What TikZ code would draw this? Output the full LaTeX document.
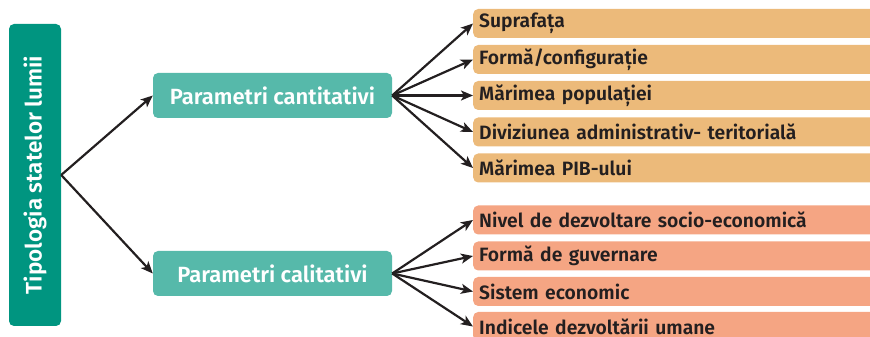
\documentclass[tikz,border=0pt]{standalone}
\usepackage{fontspec}
\setmainfont{Fira Sans SemiBold}
\usetikzlibrary{arrows.meta}
\definecolor{darkteal}{RGB}{0,149,128}
\definecolor{lightteal}{RGB}{86,185,170}
\definecolor{orangebox}{RGB}{236,186,122}
\definecolor{salmonbox}{RGB}{245,165,131}
\definecolor{ink}{RGB}{35,31,32}
\tikzset{
  x=1pt,y=1pt,
  rootbox/.style={fill=darkteal, rounded corners=5pt, minimum width=52pt, minimum height=302pt, inner sep=0pt, text=white, font=\fontsize{22.5}{22.5}\selectfont},
  midbox/.style={fill=lightteal, rounded corners=5pt, minimum width=239pt, minimum height=45pt, inner sep=0pt, text=white, font=\fontsize{22}{22}\selectfont},
  leafbox/.style={rounded corners=5pt, anchor=west, minimum height=29pt, text width=395pt, inner xsep=6pt, inner ysep=0pt, align=left, text=ink, font=\fontsize{19.3}{19.3}\selectfont},
  qbox/.style={leafbox, fill=orangebox},
  lbox/.style={leafbox, fill=salmonbox},
  arr/.style={draw=ink, line width=2.2pt, -{Stealth[length=12pt,width=10pt,inset=3pt]}}
}
\begin{document}
\begin{tikzpicture}
\useasboundingbox (0,0) rectangle (870,337);
\node[rootbox] (root) at (35,162) {\rotatebox{90}{Tipologia statelor lumii}};
\node[midbox] (cant) at (272.5,241.5) {Parametri cantitativi};
\node[midbox] (cal) at (272.5,63.5) {Parametri calitativi};
\node[qbox] (q1) at (473,313.5) {Suprafața};
\node[qbox] (q2) at (473,277.5) {Formă/configurație};
\node[qbox] (q3) at (473,241.5) {Mărimea populației};
\node[qbox] (q4) at (473,205) {Diviziunea administrativ- teritorială};
\node[qbox] (q5) at (473,169) {Mărimea PIB-ului};
\node[lbox] (l1) at (473,117) {Nivel de dezvoltare socio-economică};
\node[lbox] (l2) at (473,81) {Formă de guvernare};
\node[lbox] (l3) at (473,45.5) {Sistem economic};
\node[lbox] (l4) at (473,10.5) {Indicele dezvoltării umane};
\draw[arr] (root.east) -- (cant.west);
\draw[arr] (root.east) -- (cal.west);
\foreach \n in {q1,q2,q3,q4,q5} \draw[arr] (cant.east) -- (\n.west);
\foreach \n in {l1,l2,l3,l4} \draw[arr] (cal.east) -- (\n.west);
\end{tikzpicture}
\end{document}
